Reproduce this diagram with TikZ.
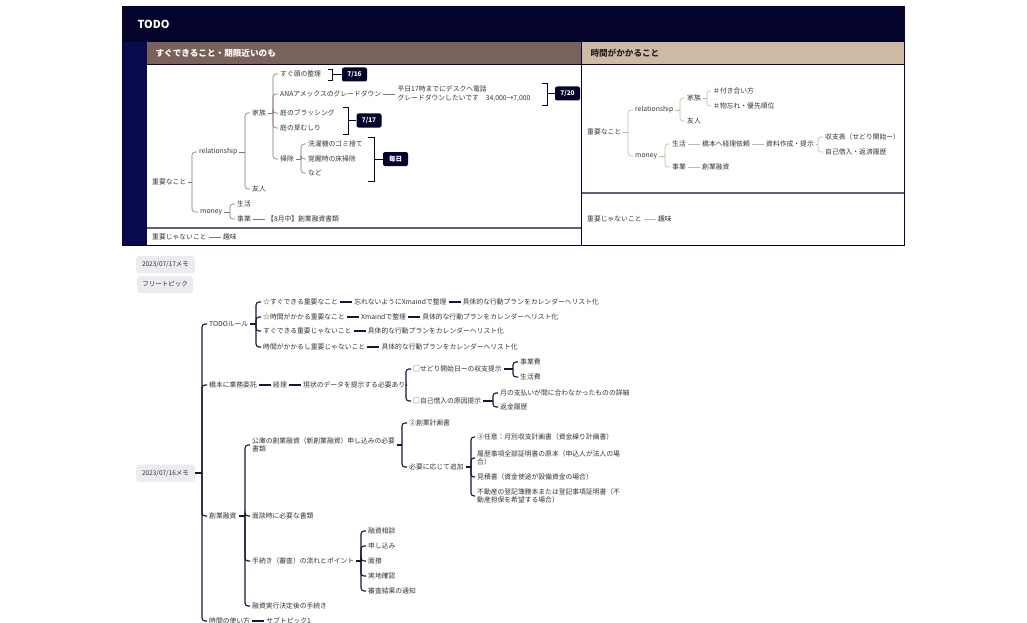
\documentclass[tikz,border=0pt]{standalone}
\usepackage{fontspec}
\setmainfont{Noto Sans CJK JP}
\usetikzlibrary{positioning, calc}
\definecolor{navy}{HTML}{03032C}
\definecolor{strip}{HTML}{070A4C}
\definecolor{brownhead}{HTML}{79615C}
\definecolor{tanhead}{HTML}{CEB9A4}
\definecolor{brownline}{HTML}{86706B}
\definecolor{tanline}{HTML}{C9B49D}
\definecolor{navyline}{HTML}{16163A}
\definecolor{rowline}{HTML}{5E5E7C}
\definecolor{memogray}{HTML}{ECEBEF}
\definecolor{inktext}{HTML}{333333}
\newcommand\mmfont{\fontsize{6.8pt}{8.6pt}\selectfont}

\begin{document}
\begin{tikzpicture}[
    x=1pt, y=-1pt,
    node distance=12pt,
    topic/.style={anchor=west, inner sep=2pt, font=\mmfont, text=inktext},
    multi/.style={topic, align=left},
    datebox/.style={fill=navy, text=white, rounded corners=2pt, font=\fontsize{6.5pt}{7pt}\selectfont\bfseries, minimum width=25pt, minimum height=14pt, inner sep=0pt},
    memo/.style={fill=memogray, rounded corners=3pt, font=\fontsize{6.5pt}{7pt}\selectfont, text=inktext, minimum height=17pt, inner sep=3pt},
    head/.style={anchor=west, font=\fontsize{8.6pt}{10pt}\selectfont\bfseries},
    brownlink/.style={draw=brownline, line width=0.6pt, rounded corners=3pt},
    tanlink/.style={draw=tanline, line width=0.6pt, rounded corners=3pt},
    navylink/.style={draw=navyline, line width=1.1pt, rounded corners=3pt},
    bracket/.style={draw=navy, line width=0.9pt}
]
\useasboundingbox (0,0) rectangle (1027,623);

% board frame
\fill[navy] (122,7) rectangle (904,42);
\fill[strip] (122,42) rectangle (147,245);
\fill[brownhead] (147,42) rectangle (581,64);
\fill[tanhead] (582,42) rectangle (904,64);
\draw[navy, line width=0.8pt] (147,64) -- (904,64);
\draw[rowline, line width=1.3pt] (147,228) -- (581,228);
\draw[rowline, line width=1.3pt] (582,193) -- (904,193);
\draw[navy, line width=1.2pt] (581.5,42) -- (581.5,245);
\draw[navy, line width=1pt] (122,7) rectangle (904,245);
\node[anchor=west, text=white, font=\fontsize{11pt}{12pt}\selectfont\bfseries] (title) at (134,24.5) {TODO};
\node[head, text=white] (hnow) at (152,53) {すぐできること・期限近いのも};
\node[head, text=black!85] (hlong) at (587,53) {時間がかかること};

% left panel
\node[topic] (imp) at (150,182) {重要なこと};
\node[topic] (rel) at (197,152) {relationship};
\node[topic] (money) at (198,212) {money};
\node[topic] (family) at (250,113) {家族};
\node[topic] (friend) at (250,189) {友人};
\node[topic] (tidy) at (278,74) {すぐ頭の整理};
\node[topic] (ana) at (278,94) {ANAアメックスのグレードダウン};
\node[multi, right=of ana] (anacall) {平日17時までにデスクへ電話\\グレードダウンしたいです\quad 34,000→7,000};
\node[topic] (brush) at (278,113) {庭のブラッシング};
\node[topic] (weed) at (278,128) {庭の草むしり};
\node[topic] (clean) at (278,159) {掃除};
\node[topic] (trash) at (306,144) {洗濯機のゴミ捨て};
\node[topic] (floor) at (306,159) {覚醒時の床掃除};
\node[topic] (etc) at (306,173) {など};
\node[topic] (life) at (235,204) {生活};
\node[topic] (biz) at (235,219) {事業};
\node[topic, right=of biz] (bizdoc) {【8月中】創業融資書類};
\node[topic] (minor) at (150,237) {重要じゃないこと};
\node[topic, right=of minor] (hobby) {趣味};

\coordinate (kimp) at ($(rel.west)+(-5,0)$);
\draw[brownlink] (imp.east) -- (imp.east -| kimp);
\foreach \c in {rel, money} \draw[brownlink] (imp.east -| kimp) |- (\c.west);
\coordinate (krel) at ($(family.west)+(-5,0)$);
\draw[brownlink] (rel.east) -- (rel.east -| krel);
\foreach \c in {family, friend} \draw[brownlink] (rel.east -| krel) |- (\c.west);
\coordinate (kfamily) at ($(tidy.west)+(-5,0)$);
\draw[brownlink] (family.east) -- (family.east -| kfamily);
\foreach \c in {tidy, ana, brush, weed, clean} \draw[brownlink] (family.east -| kfamily) |- (\c.west);
\coordinate (kclean) at ($(trash.west)+(-5,0)$);
\draw[brownlink] (clean.east) -- (clean.east -| kclean);
\foreach \c in {trash, floor, etc} \draw[brownlink] (clean.east -| kclean) |- (\c.west);
\coordinate (kmoney) at ($(life.west)+(-5,0)$);
\draw[brownlink] (money.east) -- (money.east -| kmoney);
\foreach \c in {life, biz} \draw[brownlink] (money.east -| kmoney) |- (\c.west);
\draw[brownlink] (ana) -- (anacall);
\draw[brownlink] (biz) -- (bizdoc);
\draw[brownlink] (minor) -- (hobby);

% due dates
\node[datebox] (d716) at (354.5,74.5) {7/16};
\node[datebox] (d720) at (567.5,93.5) {7/20};
\node[datebox] (d717) at (369,120.5) {7/17};
\node[datebox] (daily) at (395.5,159) {毎日};
\coordinate (b716) at (332,74.5);
\coordinate (b720) at (547,93.5);
\coordinate (b717) at (348,120.5);
\coordinate (bdaily) at (374,159);
\draw[bracket] (328,69) -- (332,69) -- (332,80) -- (328,80);
\draw[bracket] (542,83) -- (547,83) -- (547,105) -- (542,105);
\draw[bracket] (343,107) -- (348,107) -- (348,134) -- (343,134);
\draw[bracket] (368,137) -- (374,137) -- (374,181) -- (368,181);
\draw[bracket] (b716) -- (d716);
\draw[bracket] (b720) -- (d720);
\draw[bracket] (b717) -- (d717);
\draw[bracket] (bdaily) -- (daily);

% right panel
\node[topic] (rimp) at (585,132) {重要なこと};
\node[topic] (rrel) at (633,110) {relationship};
\node[topic] (rmoney) at (633,156) {money};
\node[topic] (rfamily) at (685,98) {家族};
\node[topic] (rfriend) at (685,121) {友人};
\node[topic] (rway) at (711,91) {＃付き合い方};
\node[topic] (rforget) at (711,106) {＃物忘れ・優先順位};
\node[topic] (rlife) at (670,144) {生活};
\node[topic, right=of rlife] (rhashi) {橋本へ経理依頼};
\node[topic, right=of rhashi] (rdata) {資料作成・提示};
\node[topic] (rbook) at (823,137) {収支表（せどり開始ー）};
\node[topic] (rloan) at (823,152) {自己借入・返済履歴};
\node[topic] (rbiz) at (670,167) {事業};
\node[topic, right=of rbiz] (rfund) {創業融資};
\node[topic] (rminor) at (585,219) {重要じゃないこと};
\node[topic, right=of rminor] (rhobby) {趣味};

\coordinate (krimp) at ($(rrel.west)+(-5,0)$);
\draw[tanlink] (rimp.east) -- (rimp.east -| krimp);
\foreach \c in {rrel, rmoney} \draw[tanlink] (rimp.east -| krimp) |- (\c.west);
\coordinate (krrel) at ($(rfamily.west)+(-5,0)$);
\draw[tanlink] (rrel.east) -- (rrel.east -| krrel);
\foreach \c in {rfamily, rfriend} \draw[tanlink] (rrel.east -| krrel) |- (\c.west);
\coordinate (krfamily) at ($(rway.west)+(-4,0)$);
\draw[tanlink] (rfamily.east) -- (rfamily.east -| krfamily);
\foreach \c in {rway, rforget} \draw[tanlink] (rfamily.east -| krfamily) |- (\c.west);
\coordinate (krmoney) at ($(rlife.west)+(-5,0)$);
\draw[tanlink] (rmoney.east) -- (rmoney.east -| krmoney);
\foreach \c in {rlife, rbiz} \draw[tanlink] (rmoney.east -| krmoney) |- (\c.west);
\coordinate (krdata) at ($(rbook.west)+(-5,0)$);
\draw[tanlink] (rdata.east) -- (rdata.east -| krdata);
\foreach \c in {rbook, rloan} \draw[tanlink] (rdata.east -| krdata) |- (\c.west);
\draw[tanlink] (rlife) -- (rhashi);
\draw[tanlink] (rhashi) -- (rdata);
\draw[tanlink] (rbiz) -- (rfund);
\draw[tanlink] (rminor) -- (rhobby);

% memo map
\node[memo, minimum width=59pt] (memo17) at (165.5,264.5) {2023/07/17メモ};
\node[memo, minimum width=56pt] (free) at (165,284.5) {フリートピック};
\node[memo, minimum width=59pt] (memo16) at (165.5,473) {2023/07/16メモ};

\node[topic] (todo) at (207,324) {TODOルール};
\node[topic] (rule1) at (261,302) {☆すぐできる重要なこと};
\node[topic, right=of rule1] (rule1b) {忘れないようにXmaindで整理};
\node[topic, right=of rule1b] (rule1c) {具体的な行動プランをカレンダーへリスト化};
\node[topic] (rule2) at (261,317) {☆時間がかかる重要なこと};
\node[topic, right=of rule2] (rule2b) {Xmaindで整理};
\node[topic, right=of rule2b] (rule2c) {具体的な行動プランをカレンダーへリスト化};
\node[topic] (rule3) at (261,331) {すぐできる重要じゃないこと};
\node[topic, right=of rule3] (rule3b) {具体的な行動プランをカレンダーへリスト化};
\node[topic] (rule4) at (261,347) {時間がかかるし重要じゃないこと};
\node[topic, right=of rule4] (rule4b) {具体的な行動プランをカレンダーへリスト化};

\node[topic] (outsource) at (207,385) {橋本に業務委託};
\node[topic, right=of outsource] (acct) {経理};
\node[topic, right=of acct] (present) {現状のデータを提示する必要あり};
\node[topic] (sedori) at (411,369) {□せどり開始日ーの収支提示};
\node[topic] (bizcost) at (518,362) {事業費};
\node[topic] (livecost) at (518,377) {生活費};
\node[topic] (selfloan) at (411,401) {□自己借入の原因提示};
\node[topic] (unpaid) at (498,393) {月の支払いが間に合わなかったものの詳細};
\node[topic] (repay) at (498,407) {返金履歴};

\node[topic] (startup) at (207,516) {創業融資};
\node[multi] (kouko) at (250,445) {公庫の創業融資（新創業融資）申し込みの必要\\書類};
\node[topic] (plan) at (407,423) {②創業計画書};
\node[topic] (extra) at (407,467) {必要に応じて追加};
\node[topic] (monthly) at (475,437) {③任意：月別収支計画書（資金繰り計画書）};
\node[multi] (registry) at (475,458) {履歴事項全部証明書の原本（申込人が法人の場\\合）};
\node[topic] (quote) at (475,477) {見積書（資金使途が設備資金の場合）};
\node[multi] (estate) at (475,496) {不動産の登記簿謄本または登記事項証明書（不\\動産担保を希望する場合）};
\node[topic] (interview) at (250,516) {面談時に必要な書類};
\node[topic] (flow) at (250,561) {手続き（審査）の流れとポイント};
\node[topic] (consult) at (366,531) {融資相談};
\node[topic] (apply) at (366,546) {申し込み};
\node[topic] (meet) at (366,561) {面接};
\node[topic] (visit) at (366,576) {実地確認};
\node[topic] (result) at (366,591) {審査結果の通知};
\node[topic] (after) at (250,606) {融資実行決定後の手続き};
\node[topic] (timeuse) at (207,621) {時間の使い方};
\node[topic, right=of timeuse] (sub1) {サブトピック1};

\coordinate (kmemo) at ($(todo.west)+(-5,0)$);
\draw[navylink] (memo16.east) -- (memo16.east -| kmemo);
\foreach \c in {todo, outsource, startup, timeuse} \draw[navylink] (memo16.east -| kmemo) |- (\c.west);
\coordinate (ktodo) at ($(rule1.west)+(-5,0)$);
\draw[navylink] (todo.east) -- (todo.east -| ktodo);
\foreach \c in {rule1, rule2, rule3, rule4} \draw[navylink] (todo.east -| ktodo) |- (\c.west);
\coordinate (kpresent) at ($(sedori.west)+(-5,0)$);
\draw[navylink] (present.east) -- (present.east -| kpresent);
\foreach \c in {sedori, selfloan} \draw[navylink] (present.east -| kpresent) |- (\c.west);
\coordinate (ksedori) at ($(bizcost.west)+(-5,0)$);
\draw[navylink] (sedori.east) -- (sedori.east -| ksedori);
\foreach \c in {bizcost, livecost} \draw[navylink] (sedori.east -| ksedori) |- (\c.west);
\coordinate (kselfloan) at ($(unpaid.west)+(-5,0)$);
\draw[navylink] (selfloan.east) -- (selfloan.east -| kselfloan);
\foreach \c in {unpaid, repay} \draw[navylink] (selfloan.east -| kselfloan) |- (\c.west);
\coordinate (kstartup) at ($(kouko.west)+(-5,0)$);
\draw[navylink] (startup.east) -- (startup.east -| kstartup);
\foreach \c in {kouko, interview, flow, after} \draw[navylink] (startup.east -| kstartup) |- (\c.west);
\coordinate (kkouko) at ($(plan.west)+(-5,0)$);
\draw[navylink] (kouko.east) -- (kouko.east -| kkouko);
\foreach \c in {plan, extra} \draw[navylink] (kouko.east -| kkouko) |- (\c.west);
\coordinate (kextra) at ($(monthly.west)+(-4,0)$);
\draw[navylink] (extra.east) -- (extra.east -| kextra);
\foreach \c in {monthly, registry, quote, estate} \draw[navylink] (extra.east -| kextra) |- (\c.west);
\coordinate (kflow) at ($(consult.west)+(-5,0)$);
\draw[navylink] (flow.east) -- (flow.east -| kflow);
\foreach \c in {consult, apply, meet, visit, result} \draw[navylink] (flow.east -| kflow) |- (\c.west);
\draw[navylink] (rule1) -- (rule1b);
\draw[navylink] (rule1b) -- (rule1c);
\draw[navylink] (rule2) -- (rule2b);
\draw[navylink] (rule2b) -- (rule2c);
\draw[navylink] (rule3) -- (rule3b);
\draw[navylink] (rule4) -- (rule4b);
\draw[navylink] (outsource) -- (acct);
\draw[navylink] (acct) -- (present);
\draw[navylink] (timeuse) -- (sub1);
\end{tikzpicture}
\end{document}
